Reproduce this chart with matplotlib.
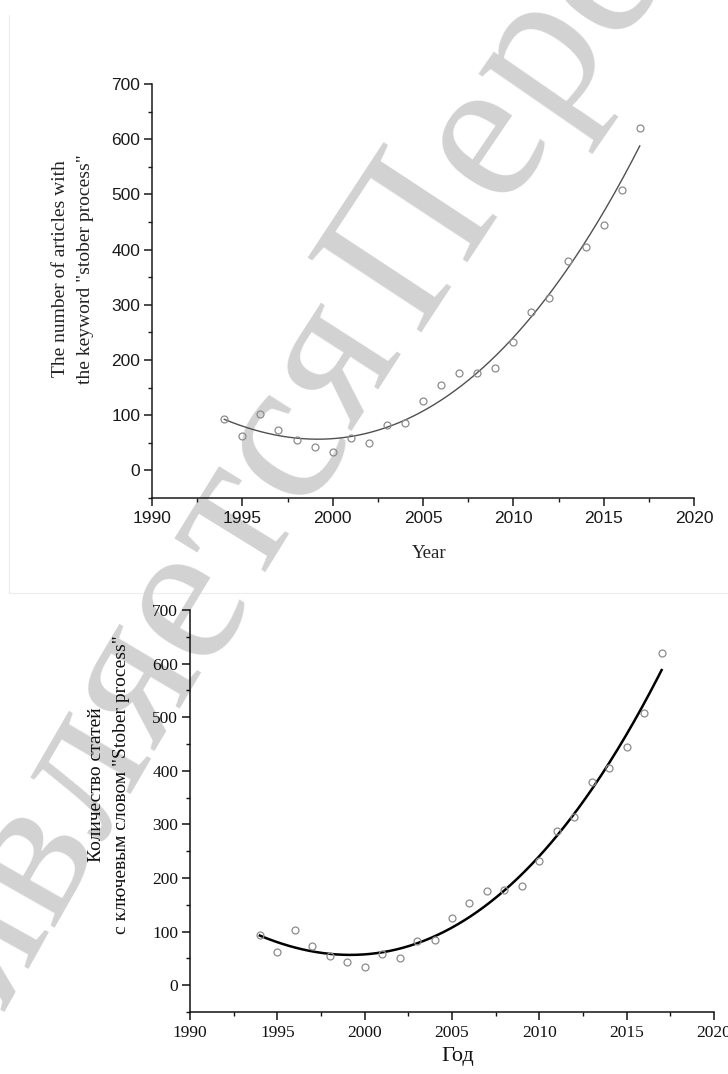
import numpy as np
import matplotlib.pyplot as plt
from matplotlib.font_manager import FontProperties
from matplotlib.ticker import MultipleLocator

# number of publications per year with the keyword "stober process"
years = np.arange(1994, 2018)
articles = [94, 62, 103, 74, 55, 43, 34, 59, 50, 82, 85, 125,
            154, 176, 177, 186, 232, 287, 313, 379, 405, 445, 508, 620]

x_ticks = [1990, 1995, 2000, 2005, 2010, 2015, 2020]
y_ticks = [0, 100, 200, 300, 400, 500, 600, 700]

label_en = 'The number of articles with\nthe keyword "stober process"'
label_ru = 'Количество статей\nс ключевым словом "Stober process"'
watermark = "является Пере"

# polynomial trend through the yearly counts
coef = np.polyfit(years, articles, 3)
x_fit = np.linspace(years[0], years[-1], 300)
y_fit = np.polyval(coef, x_fit)

W, H = 728, 1074
fig = plt.figure(figsize=(W / 100, H / 100), dpi=100)

# background layer in pixel coordinates: watermark and frame of the upper figure
bg = fig.add_axes([0, 0, 1, 1])
bg.set_xlim(0, W)
bg.set_ylim(H, 0)
bg.axis('off')
bg.plot([9, 9, W], [15, 593, 593], color='#ececec', lw=0.8)

wm_font = FontProperties(family='Liberation Serif', size=150)
renderer = fig.canvas.get_renderer()
P0, P1, P2 = np.array([-24, 1063]), np.array([286, 499]), np.array([661, -24])
t = np.linspace(0, 1, 3000)[:, None]
path = (1 - t) ** 2 * P0 + 2 * (1 - t) * t * P1 + t ** 2 * P2
arc = np.concatenate([[0], np.cumsum(np.hypot(*np.diff(path, axis=0).T))])
pos = 58.0
for ch in watermark:
    if ch == ' ':
        pos += 22
        continue
    i = min(np.searchsorted(arc, pos), len(arc) - 2)
    dx, dy = path[i + 1] - path[i]
    ang = np.degrees(np.arctan2(-dy, dx))
    bg.text(path[i, 0], path[i, 1], ch, fontproperties=wm_font, color='#d2d2d2',
            rotation=ang, rotation_mode='anchor', ha='left', va='baseline')
    w, _, _ = renderer.get_text_width_height_descent(ch, wm_font, ismath=False)
    pos += w + 1


def style_axes(ax, tick_font, tick_size, color):
    ax.set_facecolor('none')
    ax.set_xlim(1990, 2020)
    ax.set_ylim(-50, 700)
    ax.set_xticks(x_ticks)
    ax.set_yticks(y_ticks)
    ax.xaxis.set_minor_locator(MultipleLocator(2.5))
    ax.yaxis.set_minor_locator(MultipleLocator(50))
    for side in ('top', 'right'):
        ax.spines[side].set_visible(False)
    for side in ('left', 'bottom'):
        ax.spines[side].set_linewidth(1.1)
        ax.spines[side].set_color(color)
    ax.tick_params(which='major', length=5.5, width=1.1, color=color, direction='out')
    ax.tick_params(which='minor', length=3, width=1.0, color=color, direction='out')
    ax.tick_params(axis='x', pad=4)
    ax.tick_params(axis='y', pad=3)
    for lab in ax.get_xticklabels() + ax.get_yticklabels():
        lab.set_fontfamily(tick_font)
        lab.set_fontsize(tick_size)
        lab.set_color(color)


# upper chart (English)
ax1 = fig.add_axes([152 / W, 1 - 498 / H, 542 / W, 414 / H])
ax1.plot(x_fit, y_fit, color='#505050', lw=1.0, zorder=2)
ax1.plot(years, articles, 'o', ms=5, mfc='none', mec='#8c8c8c', mew=0.9, zorder=3)
style_axes(ax1, 'Liberation Sans', 12.5, '#1a1a1a')
fig.text(73 / W, 1 - 269 / H, label_en, rotation=90, ha='center', va='center',
         family='Liberation Serif', fontsize=14, linespacing=1.6, color='#222222')
fig.text(429 / W, 1 - 554 / H, 'Year', ha='center', va='center',
         family='Liberation Serif', fontsize=13.5, color='#222222')

# lower chart (Russian)
ax2 = fig.add_axes([190 / W, 1 - 1012 / H, 524 / W, 402 / H])
ax2.plot(x_fit, y_fit, color='black', lw=1.8, zorder=2)
ax2.plot(years, articles, 'o', ms=5, mfc='none', mec='#8c8c8c', mew=0.9, zorder=3)
style_axes(ax2, 'Liberation Serif', 12.5, '#111111')
fig.text(109 / W, 1 - 785 / H, label_ru, rotation=90, ha='center', va='center',
         family='Liberation Serif', fontsize=14, linespacing=1.6, color='#111111')
fig.text(458 / W, 1 - 1057 / H, 'Год', ha='center', va='center',
         family='Liberation Serif', fontsize=16, color='#111111')

fig.savefig('out.png', dpi=100)
